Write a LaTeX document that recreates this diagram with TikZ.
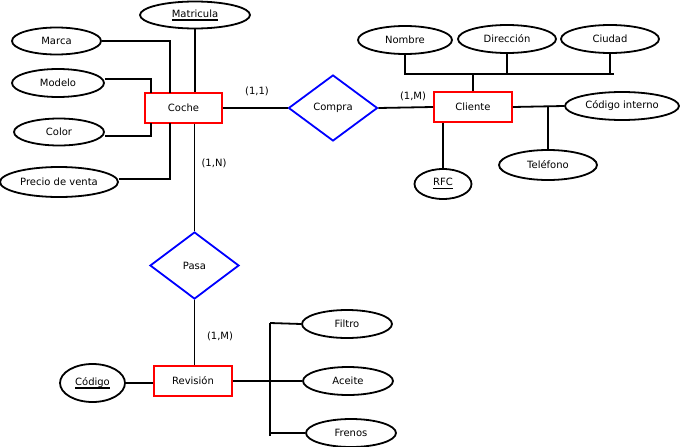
\documentclass[tikz,border=0pt]{standalone}
\usepackage{fontspec}
\setmainfont{DejaVu Sans}
\usetikzlibrary{shapes.geometric}
\newcommand\myul[1]{\setbox0\hbox{#1}\leavevmode\rlap{\rule[-3.5pt]{\wd0}{1.6pt}}\box0}
\begin{document}
\begin{tikzpicture}[x=1pt,y=-1pt,
  font=\fontsize{10}{12}\selectfont,
  every node/.style={text=black},
  attr/.style={draw=black, ellipse, line width=1.8pt, inner sep=0pt},
  ent/.style={draw=red, line width=1.8pt, minimum width=77pt, minimum height=30pt, inner sep=0pt},
  rel/.style={draw=blue, diamond, line width=1.8pt, inner sep=0pt, minimum width=89pt, minimum height=66pt},
  conn/.style={line width=1.8pt, black},
  card/.style={inner sep=1pt}]
\useasboundingbox (0,0) rectangle (680,447);
% entities
\node[ent] (coche) at (183.5,108) {Coche};
\node[ent, minimum width=78pt] (cliente) at (473,107) {Cliente};
\node[ent, minimum width=78pt] (revision) at (193,381) {Revisión};
% relationships
\node[rel] (compra) at (333,108) {Compra};
\node[rel, minimum height=67pt] (pasa) at (194.5,265.5) {Pasa};
% attributes of Coche
\node[attr, minimum width=110pt, minimum height=27pt] (matricula) at (195,15) {\myul{Matricula}};
\node[attr, minimum width=89pt, minimum height=27pt] (marca) at (56.5,41) {Marca};
\node[attr, minimum width=92pt, minimum height=28pt] (modelo) at (58,83) {Modelo};
\node[attr, minimum width=90pt, minimum height=27pt] (color) at (59,132) {Color};
\node[attr, minimum width=118pt, minimum height=30pt] (precio) at (59,182) {Precio de venta};
% attributes of Cliente
\node[attr, minimum width=94pt, minimum height=28pt] (nombre) at (405,40) {Nombre};
\node[attr, minimum width=98pt, minimum height=28pt] (direccion) at (507,39) {Dirección};
\node[attr, minimum width=98pt, minimum height=28pt] (ciudad) at (610,39) {Ciudad};
\node[attr, minimum width=114pt, minimum height=28pt] (codint) at (622,106) {Código interno};
\node[attr, minimum width=98pt, minimum height=30pt] (telefono) at (548,165) {Teléfono};
\node[attr, minimum width=57pt, minimum height=30pt] (rfc) at (443,184) {\myul{RFC}};
% attributes of Revision
\node[attr, minimum width=65pt, minimum height=38pt] (codigo) at (92.5,383) {\myul{Código}};
\node[attr, minimum width=90pt, minimum height=28pt] (filtro) at (347,324) {Filtro};
\node[attr, minimum width=90pt, minimum height=28pt] (aceite) at (348,381) {Aceite};
\node[attr, minimum width=90pt, minimum height=28pt] (frenos) at (351,433) {Frenos};
% cardinalities
\node[card] (c11) at (257,91) {(1,1)};
\node[card] (c1m) at (413,96) {(1,M)};
\node[card] (c1n) at (214,163) {(1,N)};
\node[card] (c1m2) at (220,336) {(1,M)};
% helper coordinates
\coordinate (k1) at (170,93);
\coordinate (k2) at (151,93);
\coordinate (k3) at (151,123);
\coordinate (k4) at (170,123);
\coordinate (b1) at (404,74);
\coordinate (b3) at (614,74);
\coordinate (v1) at (270,323);
\coordinate (v2) at (270,436);
% Coche connectors
\draw[conn] (marca.east) -| (k1);
\draw[conn] (matricula.south) -- (matricula.south |- coche.north);
\draw[conn] ([yshift=4pt]modelo.east) -| (k2);
\draw[conn] ([yshift=-4pt]color.east) -| (k3);
\draw[conn] ([yshift=3pt]precio.east) -| (k4);
\draw[conn] (coche.east) -- (compra.west);
\draw[conn] (pasa.north |- coche.south) -- (pasa.north);
% Cliente connectors
\draw[conn] (compra.east) -- (cliente.west);
\draw[conn] (b1) -- (b3);
\draw[conn] (nombre.south) -- (nombre.south |- b1);
\draw[conn] (direccion.south) -- (direccion.south |- b1);
\draw[conn] (ciudad.south) -- (ciudad.south |- b1);
\draw[conn] (cliente.north) -- (cliente.north |- b1);
\draw[conn] (cliente.east) -- (codint.west);
\draw[conn] (telefono.north) -- (telefono.north |- cliente.east);
\draw[conn] (rfc.north) -- (rfc.north |- cliente.south);
% Revision connectors
\draw[conn] (pasa.south) -- (pasa.south |- revision.north);
\draw[conn] (codigo.east) -- (codigo.east -| revision.west);
\draw[conn] (revision.east) -- (revision.east -| v1);
\draw[conn] (v1) -- (v2);
\draw[conn] (v1) -- (filtro.west);
\draw[conn] (aceite.west -| v1) -- (aceite.west);
\draw[conn] (frenos.west -| v1) -- (frenos.west);
\end{tikzpicture}
\end{document}
